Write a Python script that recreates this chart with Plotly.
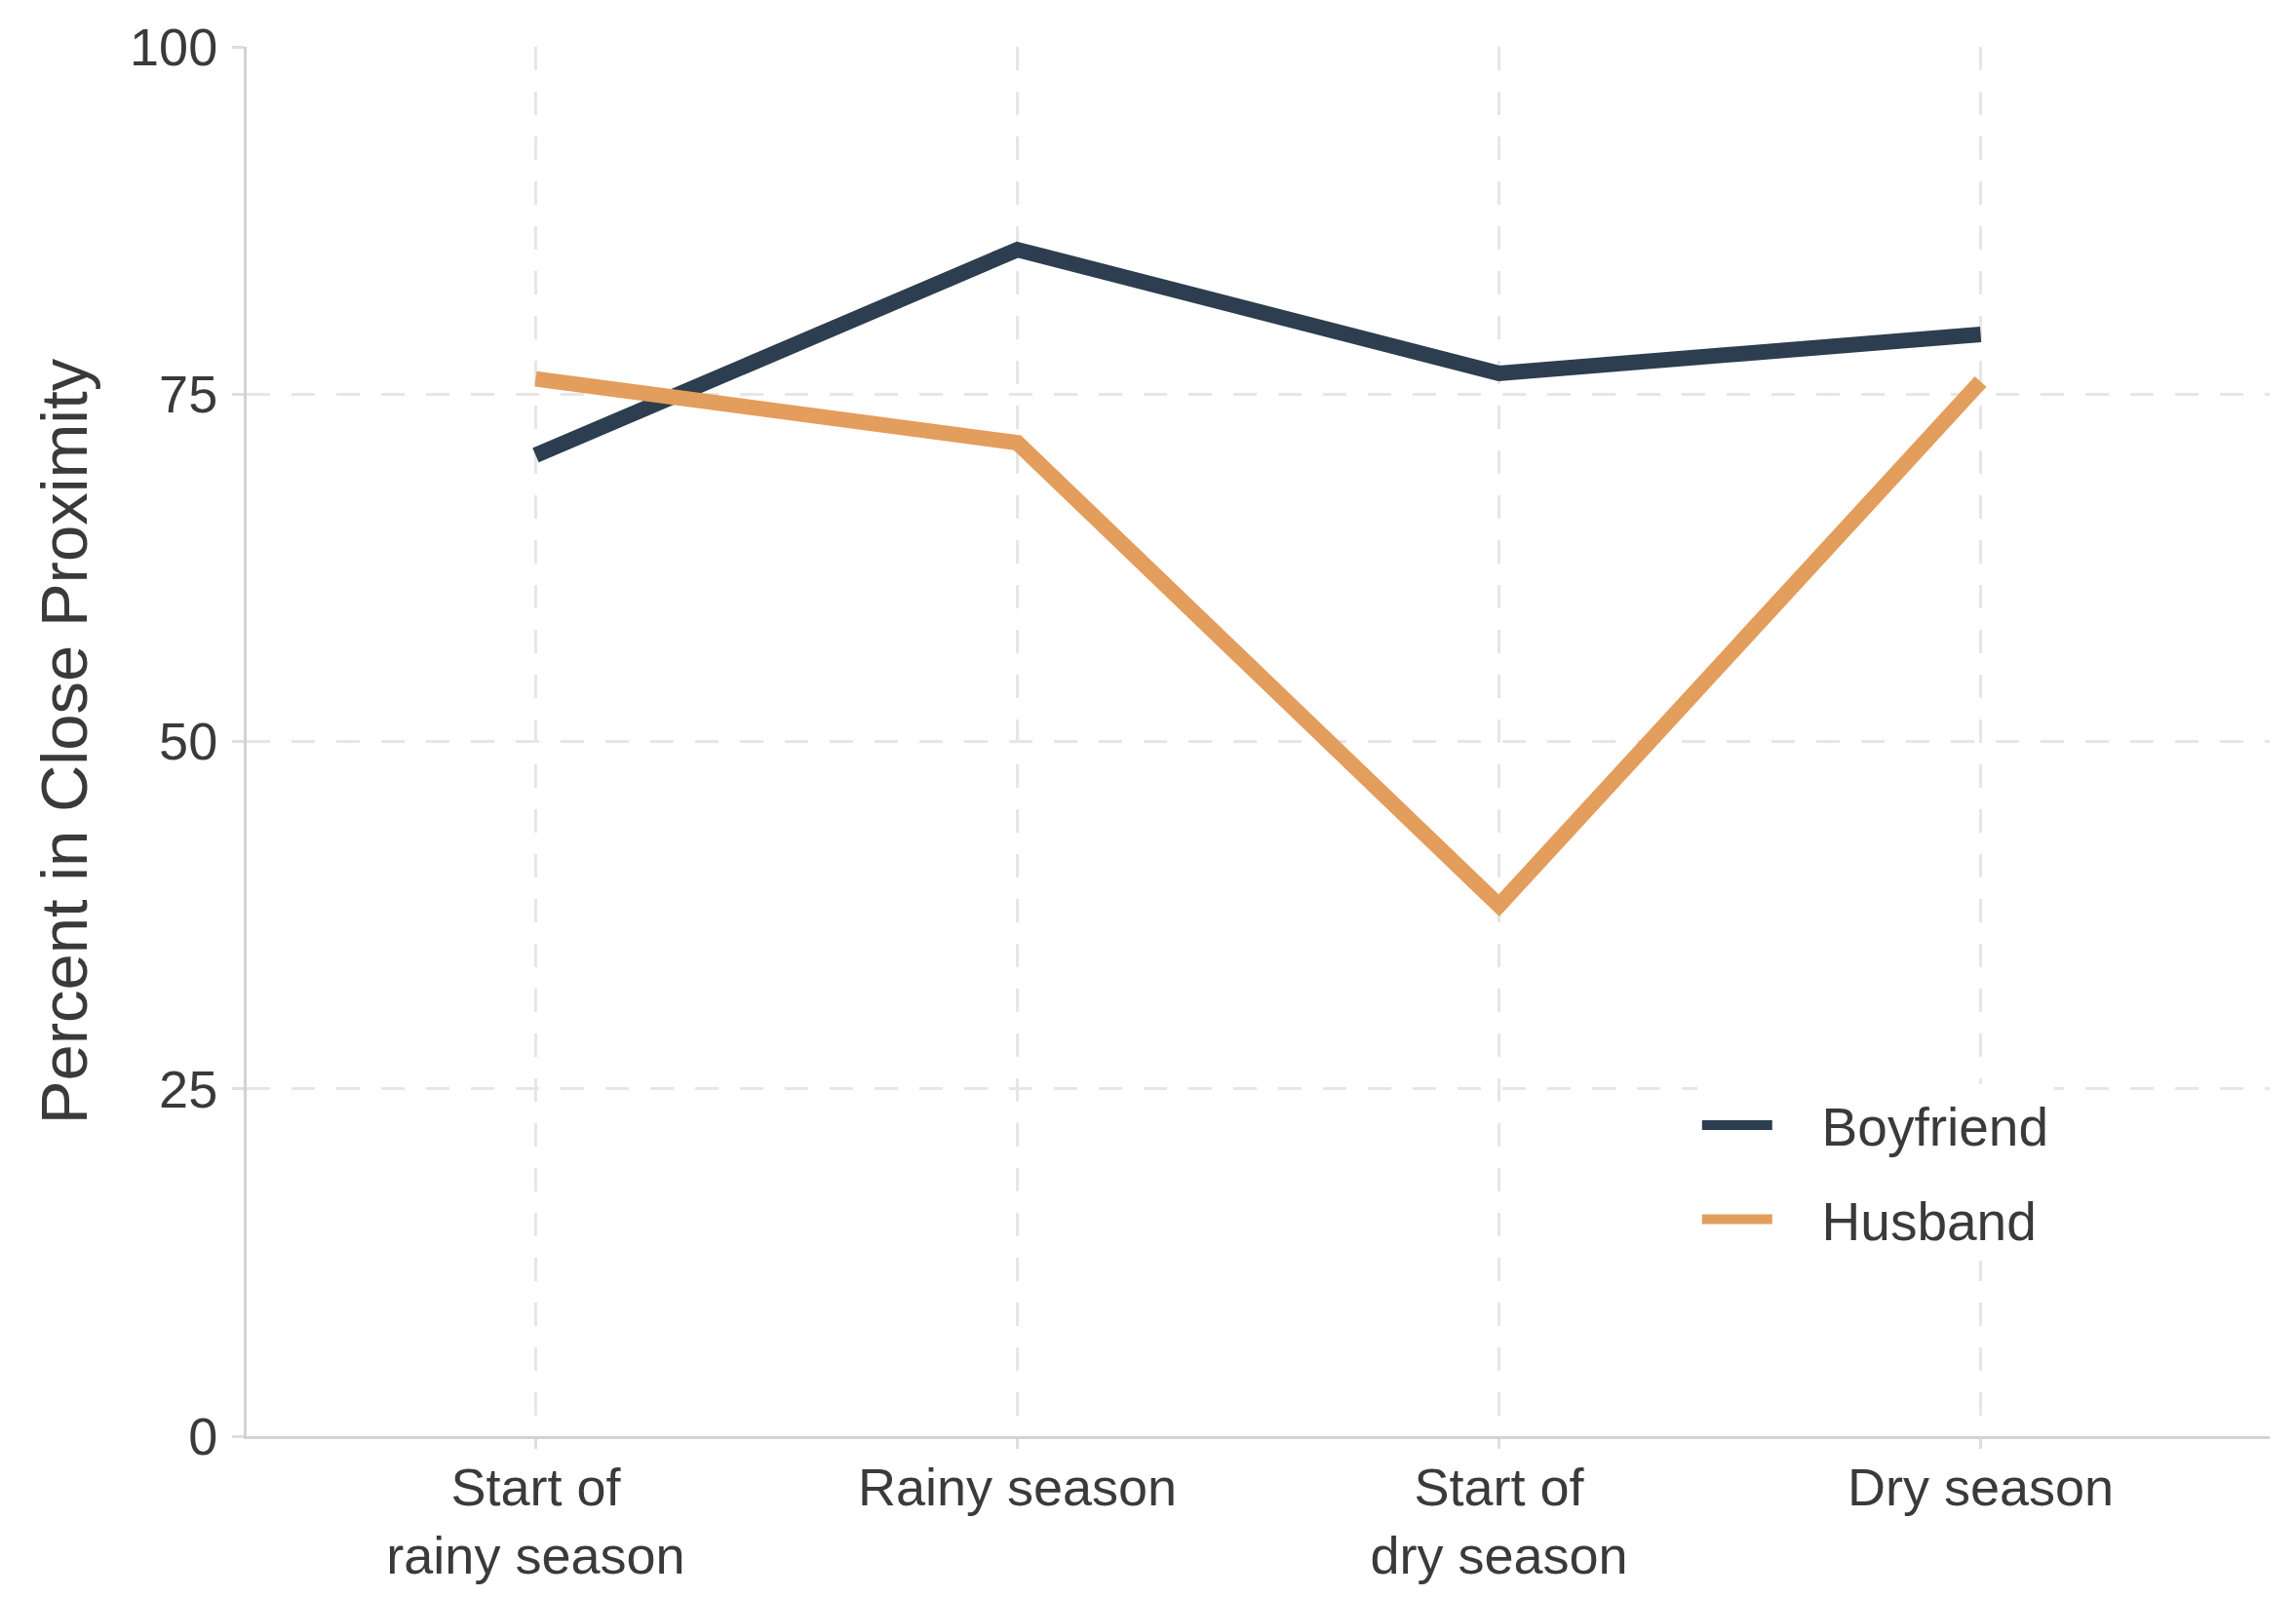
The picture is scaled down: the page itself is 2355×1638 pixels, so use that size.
import plotly.graph_objects as go

categories = ["Start of rainy season", "Rainy season", "Start of dry season", "Dry season"]
tick_labels = ["Start of<br>rainy season", "Rainy season", "Start of<br>dry season", "Dry season"]
boyfriend = [70.6, 85.4, 76.5, 79.3]
husband = [76.1, 71.5, 38.2, 75.9]
y_ticks = [0, 25, 50, 75, 100]
series_names = ["Boyfriend", "Husband"]
series_colors = ["#2c3e4f", "#e39d5c"]

FONT = "Liberation Sans, Arial, Helvetica, sans-serif"
TEXT = "#3a3a3a"
PAD = "\u00a0\u00a0\u00a0"

fig = go.Figure()
for name, vals, col in zip(series_names, [boyfriend, husband], series_colors):
    fig.add_trace(go.Scatter(
        x=categories, y=vals, mode="lines", name=PAD + name,
        line=dict(color=col, width=16), legendgroup=name,
    ))

fig.update_layout(
    width=2355, height=1638,
    margin=dict(l=253, r=27, t=48, b=165),
    paper_bgcolor="white", plot_bgcolor="white",
    font=dict(family=FONT, size=54, color=TEXT),
    showlegend=True,
    legend=dict(
        x=0.717, y=0.19, xanchor="left", yanchor="middle",
        bgcolor="white", borderwidth=0,
        font=dict(size=55, color=TEXT),
        tracegroupgap=22, traceorder="grouped", itemwidth=72,
    ),
)
fig.update_xaxes(
    type="category", range=[-0.6, 3.6], automargin=False,
    tickmode="array", tickvals=categories, ticktext=tick_labels,
    showline=True, linecolor="#d2d2d2", linewidth=3,
    ticks="outside", ticklen=10, tickwidth=3, tickcolor="#dedede",
    ticklabelstandoff=-7,
    showgrid=True, gridcolor="#e6e6e6", gridwidth=3, griddash="24px,22px",
    tickfont=dict(size=54, color=TEXT), zeroline=False,
)
fig.update_yaxes(
    range=[0, 100], tickmode="array", tickvals=y_ticks, automargin=False,
    showline=True, linecolor="#d2d2d2", linewidth=3,
    ticks="outside", ticklen=12, tickwidth=3, tickcolor="#dedede",
    showgrid=True, gridcolor="#e6e6e6", gridwidth=3, griddash="24px,22px",
    tickfont=dict(size=54, color=TEXT), zeroline=False,
    ticklabelstandoff=4,
    title=dict(text="Percent in Close Proximity", font=dict(size=67, color=TEXT), standoff=22),
)

fig.write_html(
    "out.html",
    config={"displayModeBar": False},
    post_script="document.body.style.margin='0';document.body.style.padding='0';",
)
